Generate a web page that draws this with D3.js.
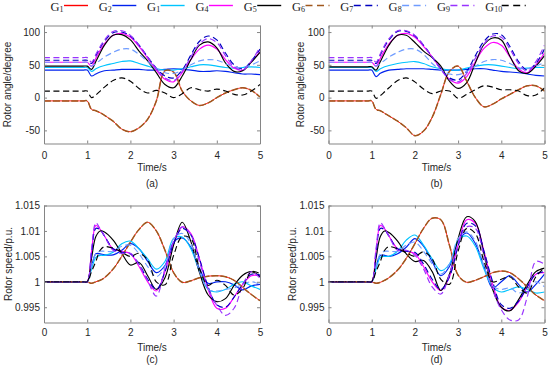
<!DOCTYPE html>
<html lang="en">
<head>
<meta charset="utf-8">
<title>Rotor angle and rotor speed</title>
<script src="https://d3js.org/d3.v7.min.js"></script>
<style>
  body { margin: 0; background: #fff; }
  svg { display: block; }
  .axis text, .lab { font-family: Arial, "Liberation Sans", sans-serif; font-size: 10px; fill: #262626; }
  .axis path, .axis line { stroke: #858585; }
  .leg { font-family: "Times New Roman", "Liberation Serif", serif; fill: #222; }
</style>
</head>
<body>
<svg id="chart" width="550" height="369"></svg>
<script>
// time samples (s) shared by every curve
const time = [0, 0.9, 1, 1.1, 1.2, 1.3, 1.4, 1.6, 1.8, 2, 2.2, 2.4, 2.6, 2.8, 3, 3.2, 3.4, 3.6, 3.8, 4, 4.2, 4.4, 4.6, 4.8, 5];

// legend as printed (third entry reads G1 in the figure)
const genSubs = ["1", "2", "1", "4", "5", "6", "7", "8", "9", "10"];
const genColors = ["#ff0000", "#0022ee", "#00c4ff", "#ff00ff", "#000000", "#a0581e", "#0000c0", "#6f9cff", "#9933ff", "#000000"];
const genDashed = [false, false, false, false, false, true, true, true, true, true];

const xTicks = [0, 1, 2, 3, 4, 5];
const angleTicks = [-50, 0, 50, 100];
const speedTicks = [0.995, 1, 1.005, 1.01, 1.015];

// (a) rotor angle, degree
const angleA = [
  [-5, -5, -5, -18, -20, -23, -27, -36, -48, -52, -46, -33, -5, 41, 39, 10, -5, -12, -8, 0, 7, 12, 15, 11, 1],
  [42, 42, 42, 33, 36, 39, 41, 42, 43, 43, 43, 42, 42, 43, 44, 43, 42, 40, 40, 41, 40, 38, 36, 36, 35],
  [46, 46, 46, 40, 44, 47, 49, 52, 55, 56, 52, 48, 44, 42, 42, 44, 47, 50, 50, 48, 46, 45, 46, 47, 46],
  [54, 54, 54, 48, 60, 72, 82, 95, 98, 92, 78, 60, 42, 28, 24, 38, 58, 74, 80, 74, 58, 45, 42, 55, 70],
  [48, 48, 48, 43, 55, 68, 80, 95, 96, 88, 71, 56, 38, 20, 15, 33, 58, 80, 85, 76, 53, 40, 41, 54, 69],
  [-5, -5, -5, -18, -20, -23, -27, -36, -48, -52, -46, -33, -5, 41, 39, 10, -5, -12, -8, 0, 7, 12, 15, 11, 1],
  [57, 57, 57, 52, 64, 76, 86, 99, 100, 94, 80, 62, 45, 33, 30, 42, 65, 86, 94, 88, 68, 50, 44, 56, 74],
  [54, 54, 54, 48, 52, 57, 62, 69, 74, 74, 66, 55, 45, 38, 37, 42, 50, 56, 58, 57, 52, 47, 46, 50, 56],
  [61, 61, 61, 54, 66, 78, 88, 101, 102, 95, 80, 62, 44, 30, 26, 40, 62, 82, 90, 84, 64, 47, 42, 56, 77],
  [10, 10, 10, 0, 4, 10, 16, 26, 30, 25, 14, 7, 11, 7, 0, 6, 15, 12, 10, 13, 10, 5, 4, 10, 20]
];

// (b) rotor angle, degree
const angleB = [
  [-5, -5, -5, -18, -20, -24, -28, -36, -46, -58, -51, -30, 5, 40, 48, 25, 0, -14, -10, -2, 5, 12, 18, 18, 10],
  [42, 42, 42, 32, 37, 40, 42, 43, 44, 44, 44, 43, 42, 42, 42, 43, 44, 44, 42, 40, 39, 38, 36, 34, 33],
  [46, 46, 46, 40, 44, 47, 49, 52, 54, 55, 52, 47, 44, 42, 42, 45, 48, 50, 50, 48, 46, 44, 45, 46, 46],
  [54, 54, 54, 48, 60, 72, 82, 95, 98, 92, 78, 62, 44, 28, 22, 32, 55, 75, 84, 80, 62, 44, 38, 50, 68],
  [47, 47, 47, 42, 55, 68, 80, 95, 95, 84, 71, 61, 48, 25, 14, 23, 53, 81, 91, 88, 63, 41, 37, 48, 64],
  [-5, -5, -5, -18, -20, -24, -28, -36, -46, -58, -51, -30, 5, 40, 48, 25, 0, -14, -10, -2, 5, 12, 18, 18, 10],
  [57, 57, 57, 52, 65, 78, 88, 101, 101, 94, 80, 62, 44, 30, 27, 40, 64, 86, 97, 96, 78, 55, 42, 52, 74],
  [54, 54, 54, 48, 52, 57, 62, 69, 74, 74, 66, 52, 42, 36, 35, 40, 48, 55, 58, 57, 52, 46, 44, 48, 54],
  [61, 61, 61, 54, 67, 80, 90, 102, 102, 95, 80, 62, 43, 28, 24, 37, 60, 82, 94, 92, 74, 52, 40, 55, 80],
  [10, 10, 10, -1, 3, 9, 15, 26, 30, 24, 13, 6, 10, 10, -1, 5, 12, 18, 16, 12, 12, 10, 3, 4, 15]
];

// (c) rotor speed, p.u.
const speedC = [
  [1, 1, 1, 0.9997, 1.0, 1.0003, 1.0008, 1.0025, 1.005, 1.0078, 1.0103, 1.0117, 1.01, 1.0062, 1.0018, 0.9999, 1.0002, 1.0008, 1.0011, 1.0012, 1.001, 1.0003, 0.9989, 0.9975, 0.9963],
  [1, 1, 1, 1.003, 1.0055, 1.0055, 1.0053, 1.0053, 1.0062, 1.0075, 1.0065, 1.004, 1.0018, 1.0032, 1.0078, 1.0086, 1.0068, 1.0026, 0.9997, 1.0, 1.0, 0.9994, 0.9984, 0.9992, 0.9995],
  [1, 1, 1, 1.0025, 1.0048, 1.0052, 1.0052, 1.0058, 1.0075, 1.008, 1.0065, 1.0045, 1.0025, 1.004, 1.0085, 1.0088, 1.0065, 1.002, 0.9985, 0.998, 0.9985, 0.9995, 1.0, 0.9992, 0.9985],
  [1, 1, 1, 1.006, 1.0111, 1.0103, 1.009, 1.0065, 1.006, 1.0055, 1.003, 1.0, 0.9982, 1.002, 1.0075, 1.0108, 1.0095, 1.0045, 0.9985, 0.9948, 0.9948, 0.997, 0.9995, 1.0012, 1.0012],
  [1, 1, 1, 1.0046, 1.0089, 1.01, 1.0098, 1.0082, 1.0056, 1.0033, 1.0038, 1.0012, 0.9985, 1.0008, 1.0072, 1.0117, 1.0079, 1.0018, 0.9974, 0.9961, 0.9967, 0.9993, 1.0013, 1.002, 1.001],
  [1, 1, 1, 0.9997, 1.0, 1.0003, 1.0008, 1.0025, 1.005, 1.0078, 1.0103, 1.0117, 1.01, 1.0062, 1.0018, 0.9999, 1.0002, 1.0008, 1.0011, 1.0012, 1.001, 1.0003, 0.9989, 0.9975, 0.9963],
  [1, 1, 1, 1.0055, 1.0105, 1.0102, 1.009, 1.0065, 1.0058, 1.0055, 1.0035, 1.0005, 0.9985, 1.002, 1.0075, 1.0105, 1.0092, 1.0045, 0.999, 0.9955, 0.995, 0.997, 0.9995, 1.0015, 1.0013],
  [1, 1, 1, 1.003, 1.0055, 1.006, 1.006, 1.006, 1.007, 1.0072, 1.0055, 1.003, 1.001, 1.003, 1.0085, 1.0095, 1.0075, 1.002, 0.9985, 0.9982, 0.9985, 0.9988, 0.9995, 1.0, 0.9995],
  [1, 1, 1, 1.0065, 1.0116, 1.0104, 1.009, 1.0062, 1.0056, 1.0056, 1.0033, 1.0002, 0.9972, 1.0026, 1.0079, 1.0108, 1.0092, 1.0039, 0.9987, 0.9954, 0.9934, 0.9948, 0.9993, 1.002, 1.0007],
  [1, 1, 1, 1.002, 1.004, 1.0062, 1.0069, 1.0066, 1.0058, 1.005, 1.0056, 1.0043, 1.0, 0.9994, 1.0052, 1.0089, 1.0085, 1.0026, 0.9993, 1.0003, 0.9993, 0.9974, 0.9987, 1.002, 1.0016]
];

// (d) rotor speed, p.u.
const speedD = [
  [1, 1, 1, 0.9997, 0.9999, 1.0003, 1.0008, 1.0023, 1.0046, 1.0075, 1.0105, 1.0125, 1.0122, 1.0072, 1.0013, 0.9999, 1.0003, 1.001, 1.0018, 1.0021, 1.0018, 1.0006, 0.999, 0.9974, 0.9963],
  [1, 1, 1, 1.003, 1.0052, 1.0052, 1.005, 1.0055, 1.0068, 1.0085, 1.007, 1.004, 1.0012, 1.003, 1.008, 1.0096, 1.0075, 1.003, 0.9988, 1.0, 1.0012, 0.9995, 0.998, 0.9995, 1.0015],
  [1, 1, 1, 1.0025, 1.0048, 1.005, 1.005, 1.006, 1.0082, 1.0092, 1.0072, 1.0045, 1.0022, 1.0035, 1.0082, 1.009, 1.007, 1.0025, 0.999, 0.998, 0.9985, 0.999, 0.9985, 0.9978, 0.998],
  [1, 1, 1, 1.006, 1.0111, 1.0104, 1.009, 1.0065, 1.006, 1.0055, 1.003, 1.0, 0.9983, 1.001, 1.0072, 1.0122, 1.0115, 1.006, 0.9995, 0.995, 0.9944, 0.996, 0.999, 1.0015, 1.0018],
  [1, 1, 1, 1.0046, 1.0089, 1.01, 1.0097, 1.008, 1.0055, 1.004, 1.0042, 1.002, 0.9983, 1.0015, 1.0085, 1.0128, 1.0118, 1.0055, 0.9985, 0.995, 0.9943, 0.9965, 0.9995, 1.002, 1.0027],
  [1, 1, 1, 0.9997, 0.9999, 1.0003, 1.0008, 1.0023, 1.0046, 1.0075, 1.0105, 1.0125, 1.0122, 1.0072, 1.0013, 0.9999, 1.0003, 1.001, 1.0018, 1.0021, 1.0018, 1.0006, 0.999, 0.9974, 0.9963],
  [1, 1, 1, 1.0055, 1.0105, 1.0102, 1.009, 1.0065, 1.006, 1.0058, 1.0035, 1.0005, 0.9985, 1.001, 1.007, 1.0115, 1.011, 1.006, 1.0, 0.9955, 0.9948, 0.9962, 0.999, 1.0015, 1.002],
  [1, 1, 1, 1.003, 1.0055, 1.006, 1.006, 1.006, 1.0072, 1.0078, 1.006, 1.0035, 1.0015, 1.0035, 1.0085, 1.0098, 1.008, 1.003, 0.9992, 0.9985, 0.9988, 0.9978, 0.9985, 1.0, 0.999],
  [1, 1, 1, 1.0065, 1.0116, 1.0105, 1.009, 1.0062, 1.0062, 1.0052, 1.0025, 0.999, 0.9976, 1.0015, 1.0075, 1.0108, 1.0105, 1.005, 0.9985, 0.9945, 0.9925, 0.9925, 0.997, 1.004, 1.0035],
  [1, 1, 1, 1.002, 1.004, 1.0062, 1.0069, 1.0065, 1.0057, 1.005, 1.0059, 1.0045, 1.0005, 0.9995, 1.006, 1.0105, 1.0095, 1.004, 1.0, 1.0005, 1.001, 0.999, 0.9978, 1.001, 1.0028]
];

const panels = [
  { data: angleA, tag: "(a)", ylabel: "Rotor angle/degree", domain: [-70, 110], ticks: angleTicks,
    left: 44, right: 260, top: 25.5, bottom: 143.5, ylabX: 7.5, xPad: 8, timeY: 167, tagY: 183.5 },
  { data: angleB, tag: "(b)", ylabel: "Rotor angle/degree", domain: [-70, 110], ticks: angleTicks,
    left: 328.5, right: 544.5, top: 25.5, bottom: 143.5, ylabX: 300.5, xPad: 8, timeY: 167, tagY: 183.5 },
  { data: speedC, tag: "(c)", ylabel: "Rotor speed/p.u.", domain: [0.992, 1.015], ticks: speedTicks,
    left: 44, right: 260, top: 205.5, bottom: 322.5, ylabX: 8, xPad: 6, timeY: 347, tagY: 359 },
  { data: speedD, tag: "(d)", ylabel: "Rotor speed/p.u.", domain: [0.992, 1.015], ticks: speedTicks,
    left: 328.5, right: 544.5, top: 205.5, bottom: 322.5, ylabX: 292, xPad: 6, timeY: 347, tagY: 359 }
];

const svg = d3.select("#chart");
const fmt = (d) => String(+d.toFixed(3));

panels.forEach((p, k) => {
  const x = d3.scaleLinear().domain([0, 5]).range([p.left, p.right]);
  const y = d3.scaleLinear().domain(p.domain).range([p.bottom, p.top]);
  const g = svg.append("g");

  g.append("clipPath").attr("id", "clip" + k)
    .append("rect")
    .attr("x", p.left).attr("y", p.top)
    .attr("width", p.right - p.left).attr("height", p.bottom - p.top);

  const line = d3.line()
    .x((d, i) => x(time[i]))
    .y((d) => y(d))
    .curve(d3.curveCatmullRom.alpha(0.5));

  // G1 and G6 coincide; the brown dashes sit on top of the red line
  g.append("g").attr("clip-path", "url(#clip" + k + ")")
    .selectAll("path")
    .data(p.data)
    .join("path")
    .attr("d", line)
    .attr("fill", "none")
    .attr("stroke", (d, i) => genColors[i])
    .attr("stroke-width", (d, i) => i === 0 ? 0.9 : i === 5 ? 1.5 : 1.15)
    .attr("stroke-dasharray", (d, i) => i === 5 ? "7,2" : genDashed[i] ? "6,3.5" : null);

  // box with inward ticks on all four sides
  g.append("g").attr("class", "axis")
    .attr("transform", `translate(0,${p.bottom})`)
    .call(d3.axisBottom(x).tickValues(xTicks).tickSize(-3).tickSizeOuter(0).tickPadding(p.xPad).tickFormat(fmt));
  g.append("g").attr("class", "axis")
    .attr("transform", `translate(0,${p.top})`)
    .call(d3.axisTop(x).tickValues(xTicks).tickSize(-3).tickSizeOuter(0).tickFormat(""));
  g.append("g").attr("class", "axis")
    .attr("transform", `translate(${p.left},0)`)
    .call(d3.axisLeft(y).tickValues(p.ticks).tickSize(-3).tickSizeOuter(0).tickPadding(4).tickFormat(fmt));
  g.append("g").attr("class", "axis")
    .attr("transform", `translate(${p.right},0)`)
    .call(d3.axisRight(y).tickValues(p.ticks).tickSize(-3).tickSizeOuter(0).tickFormat(""));
  g.selectAll(".axis text").attr("font-size", null);

  g.append("text").attr("class", "lab")
    .attr("x", (p.left + p.right) / 2).attr("y", p.timeY)
    .attr("text-anchor", "middle").attr("dominant-baseline", "central")
    .text("Time/s");
  g.append("text").attr("class", "lab")
    .attr("x", (p.left + p.right) / 2).attr("y", p.tagY)
    .attr("text-anchor", "middle").attr("dominant-baseline", "central")
    .text(p.tag);
  g.append("text").attr("class", "lab")
    .attr("transform", `translate(${p.ylabX},${(p.top + p.bottom) / 2}) rotate(-90)`)
    .attr("text-anchor", "middle").attr("dominant-baseline", "central")
    .text(p.ylabel);
});

// legend row
const leg = svg.append("g");
genSubs.forEach((s, i) => {
  const tx = 50.5 + i * 48.3;
  const t = leg.append("text").attr("class", "leg")
    .attr("x", tx).attr("y", 10.5).attr("font-size", 12.5);
  t.append("tspan").text("G");
  t.append("tspan").attr("font-size", 8).attr("dy", 1.5).text(s);
  const x1 = tx + (s.length > 1 ? 16.5 : 13.5);
  leg.append("line")
    .attr("x1", x1).attr("x2", x1 + 24)
    .attr("y1", 5.5).attr("y2", 5.5)
    .attr("stroke", genColors[i])
    .attr("stroke-width", 1.4)
    .attr("stroke-dasharray", genDashed[i] ? "7,4.5" : null);
});
</script>
</body>
</html>
